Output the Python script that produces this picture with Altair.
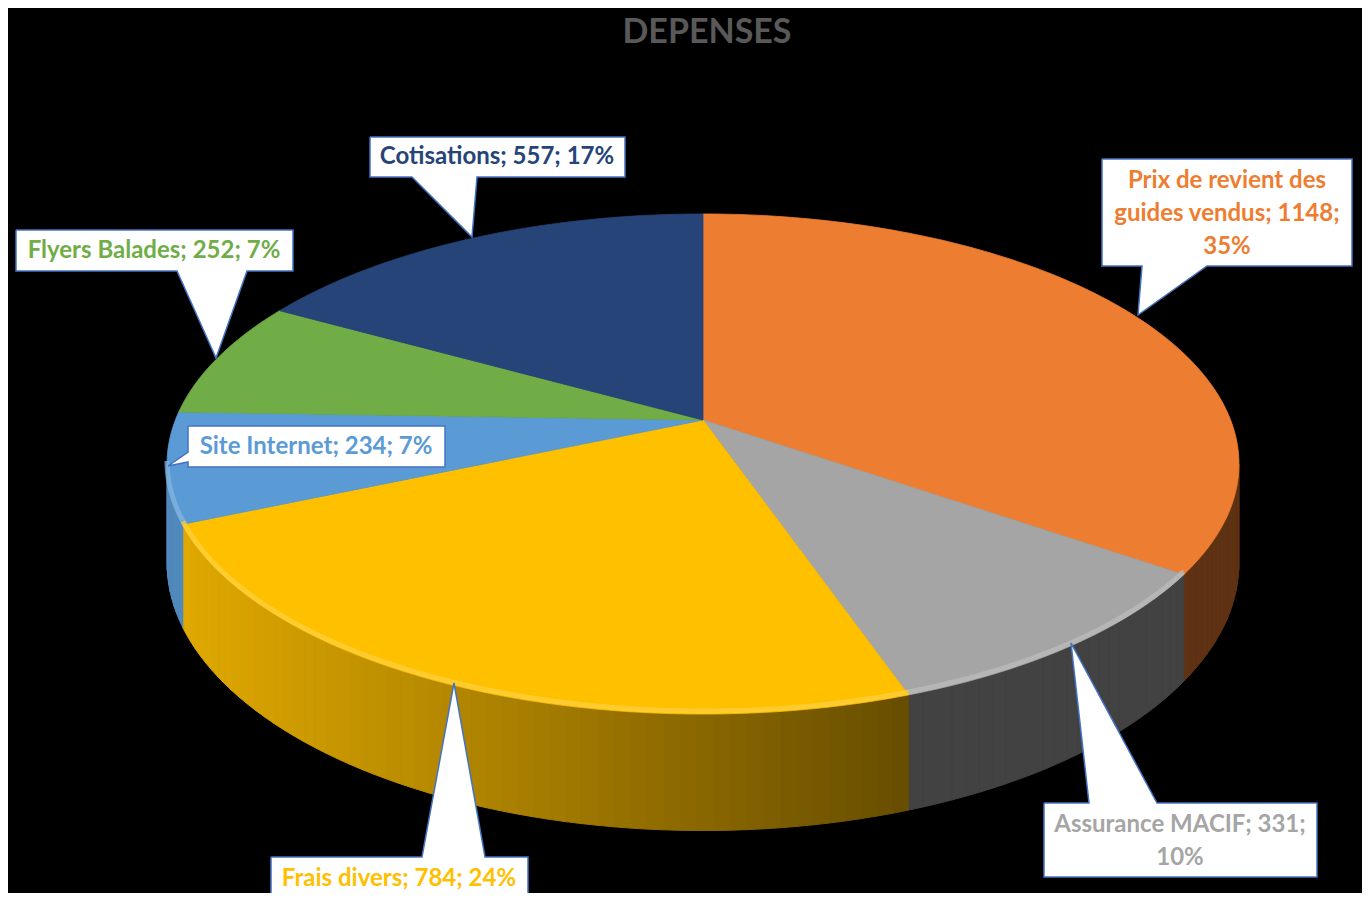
import textwrap
import numpy as np
import pandas as pd
import altair as alt

# ---------------- data ----------------
categories = ["Prix de revient des guides vendus", "Assurance MACIF", "Frais divers",
              "Site Internet", "Flyers Balades", "Cotisations"]
values = [1148, 331, 784, 234, 252, 557]
percent_labels = ["35%", "10%", "24%", "7%", "7%", "17%"]
colors = ["#ED7D31", "#A5A5A5", "#FFC000", "#5B9BD5", "#70AD47", "#264478"]
title_text = "DEPENSES"

# ---------------- layout (page pixels) ----------------
W, H = 1354, 885
CX, CY = 703.0, 420.0          # pie centre
A, B, K = 527.6, 242.3, 0.176  # ellipse radii and perspective factor
D0 = 96.0                      # pie thickness
wrap_width = [20, 21, 40, 40, 40, 40]
# position of the first text line of each label
label_pos = [(1227, 181), (1180, 825), (399, 879), (316, 447), (154, 251), (497, 157)]
callouts = [
    [(1102, 159), (1352, 159), (1352, 266), (1207, 266), (1138, 315), (1142, 266), (1102, 266)],
    [(1044, 803), (1089, 803), (1071, 643), (1157, 803), (1317, 803), (1317, 877), (1044, 877)],
    [(271, 857), (422, 857), (454, 683), (485, 857), (528, 857), (528, 898), (271, 898)],
    [(188, 426), (445, 426), (445, 467), (188, 467), (188, 462), (168, 466), (188, 452)],
    [(16, 230), (293, 230), (293, 271), (247, 271), (216, 358), (177, 271), (16, 271)],
    [(370, 137), (625, 137), (625, 177), (477, 177), (472, 237), (412, 177), (370, 177)],
]


def proj(theta_deg):
    t = np.radians(theta_deg)
    w = 1 + K * np.cos(t)
    return CX + A * np.sin(t) / w, CY - B * np.cos(t) / w, D0 / w


def hex_to_rgb(h):
    h = h.lstrip("#")
    return [int(h[i:i + 2], 16) for i in (0, 2, 4)]


def shade(h, f):
    r, g, b = hex_to_rgb(h)
    if f <= 1:
        c = [int(round(v * f)) for v in (r, g, b)]
    else:
        t = f - 1
        c = [int(round(v + (255 - v) * t)) for v in (r, g, b)]
    return "#%02x%02x%02x" % tuple(max(0, min(255, v)) for v in c)


total = float(sum(values))
cum = np.concatenate([[0.0], np.cumsum(values)]) / total * 360.0
n = len(values)

# top faces
top_rows = []
for i in range(n):
    a0, a1 = cum[i], cum[i + 1]
    ts = np.linspace(a0, a1, int((a1 - a0) / 1.0) + 3)
    pts = [(CX, CY)] + [proj(t)[:2] for t in ts] + [(CX, CY)]
    for j, (x, y) in enumerate(pts):
        top_rows.append(dict(pid=f"t{i}", ord=j, x=x, y=y, color=colors[i]))
top_df = pd.DataFrame(top_rows)

# side faces (front half only), drawn as thin shaded strips
vis0 = np.degrees(np.arccos(-K))
vis1 = 360.0 - vis0
side_rows = []
hi_rows = []
sid = 0
for i in range(n):
    lo, hi = max(cum[i], vis0), min(cum[i + 1], vis1)
    if lo >= hi:
        continue
    ts = np.linspace(lo, hi, int((hi - lo) / 1.5) + 2)
    for a, b in zip(ts[:-1], ts[1:]):
        xa, ya, da = proj(a)
        xb, yb, db = proj(b)
        xm = (xa + xb) / 2
        f = float(np.clip(0.87 - 0.45 * (xm - 200) / 680, 0.40, 0.90))
        col = shade(colors[i], f)
        quad = [(xa, ya), (xb, yb), (xb, yb + db), (xa, ya + da), (xa, ya)]
        for j, (x, y) in enumerate(quad):
            side_rows.append(dict(pid=f"s{sid}", ord=j, x=x, y=y, color=col))
        sid += 1
    # bevel highlight along the front top edge (not on the far right rim)
    for j, t in enumerate(np.linspace(lo, hi, int((hi - lo) / 1.0) + 2)):
        x, y, _ = proj(t)
        if x > 1185:
            continue
        hi_rows.append(dict(pid=f"h{i}", ord=j, x=x, y=y - 3, color=shade(colors[i], 1.25)))
side_df = pd.DataFrame(side_rows)
hi_df = pd.DataFrame(hi_rows)

# callouts
call_rows = []
for i, poly in enumerate(callouts):
    pts = poly + [poly[0]]
    for j, (x, y) in enumerate(pts):
        call_rows.append(dict(pid=f"c{i}", ord=j, x=x, y=y))
call_df = pd.DataFrame(call_rows)

lab_rows = []
for i in range(n):
    full = f"{categories[i]}; {values[i]}; {percent_labels[i]}"
    lines = textwrap.wrap(full, wrap_width[i])
    lab_rows.append(dict(x=label_pos[i][0], y=label_pos[i][1], text="\n".join(lines), color=colors[i]))
lab_df = pd.DataFrame(lab_rows)

title_df = pd.DataFrame([dict(x=707, y=43, text=title_text)])

xs = alt.Scale(domain=[8, 8 + W], nice=False, zero=False)
ys = alt.Scale(domain=[8, 8 + H], nice=False, zero=False, reverse=True)
X = alt.X("x:Q", scale=xs, axis=None)
Y = alt.Y("y:Q", scale=ys, axis=None)

sides = alt.Chart(side_df).mark_line(strokeWidth=1, filled=True).encode(
    x=X, y=Y, order="ord:Q", detail="pid:N",
    fill=alt.Fill("color:N", scale=None), stroke=alt.Stroke("color:N", scale=None))

tops = alt.Chart(top_df).mark_line(strokeWidth=0.8, filled=True).encode(
    x=X, y=Y, order="ord:Q", detail="pid:N",
    fill=alt.Fill("color:N", scale=None), stroke=alt.Stroke("color:N", scale=None))

highlight = alt.Chart(hi_df).mark_line(strokeWidth=5, opacity=0.75).encode(
    x=X, y=Y, order="ord:Q", detail="pid:N",
    stroke=alt.Stroke("color:N", scale=None))

boxes = alt.Chart(call_df).mark_line(filled=True, fill="white", stroke="#4472C4",
                                      strokeWidth=1.5, strokeJoin="miter").encode(
    x=X, y=Y, order="ord:Q", detail="pid:N")

labels = alt.Chart(lab_df).mark_text(font="Lato", fontSize=24, fontWeight="bold",
                                     align="center", baseline="middle",
                                     lineBreak="\n", lineHeight=33).encode(
    x=X, y=Y, text="text:N", color=alt.Color("color:N", scale=None))

title = alt.Chart(title_df).mark_text(font="Lato", fontSize=34, fontWeight="bold",
                                      align="center", baseline="alphabetic",
                                      color="#595959").encode(x=X, y=Y, text="text:N")

chart = alt.layer(sides, tops, highlight, boxes, labels, title).properties(
    width=W, height=H, background="black", padding=0,
    autosize=alt.AutoSizeParams(type="none"),
).configure_view(strokeWidth=0)

chart.save("out.html", embed_options={"renderer": "svg", "actions": False})
